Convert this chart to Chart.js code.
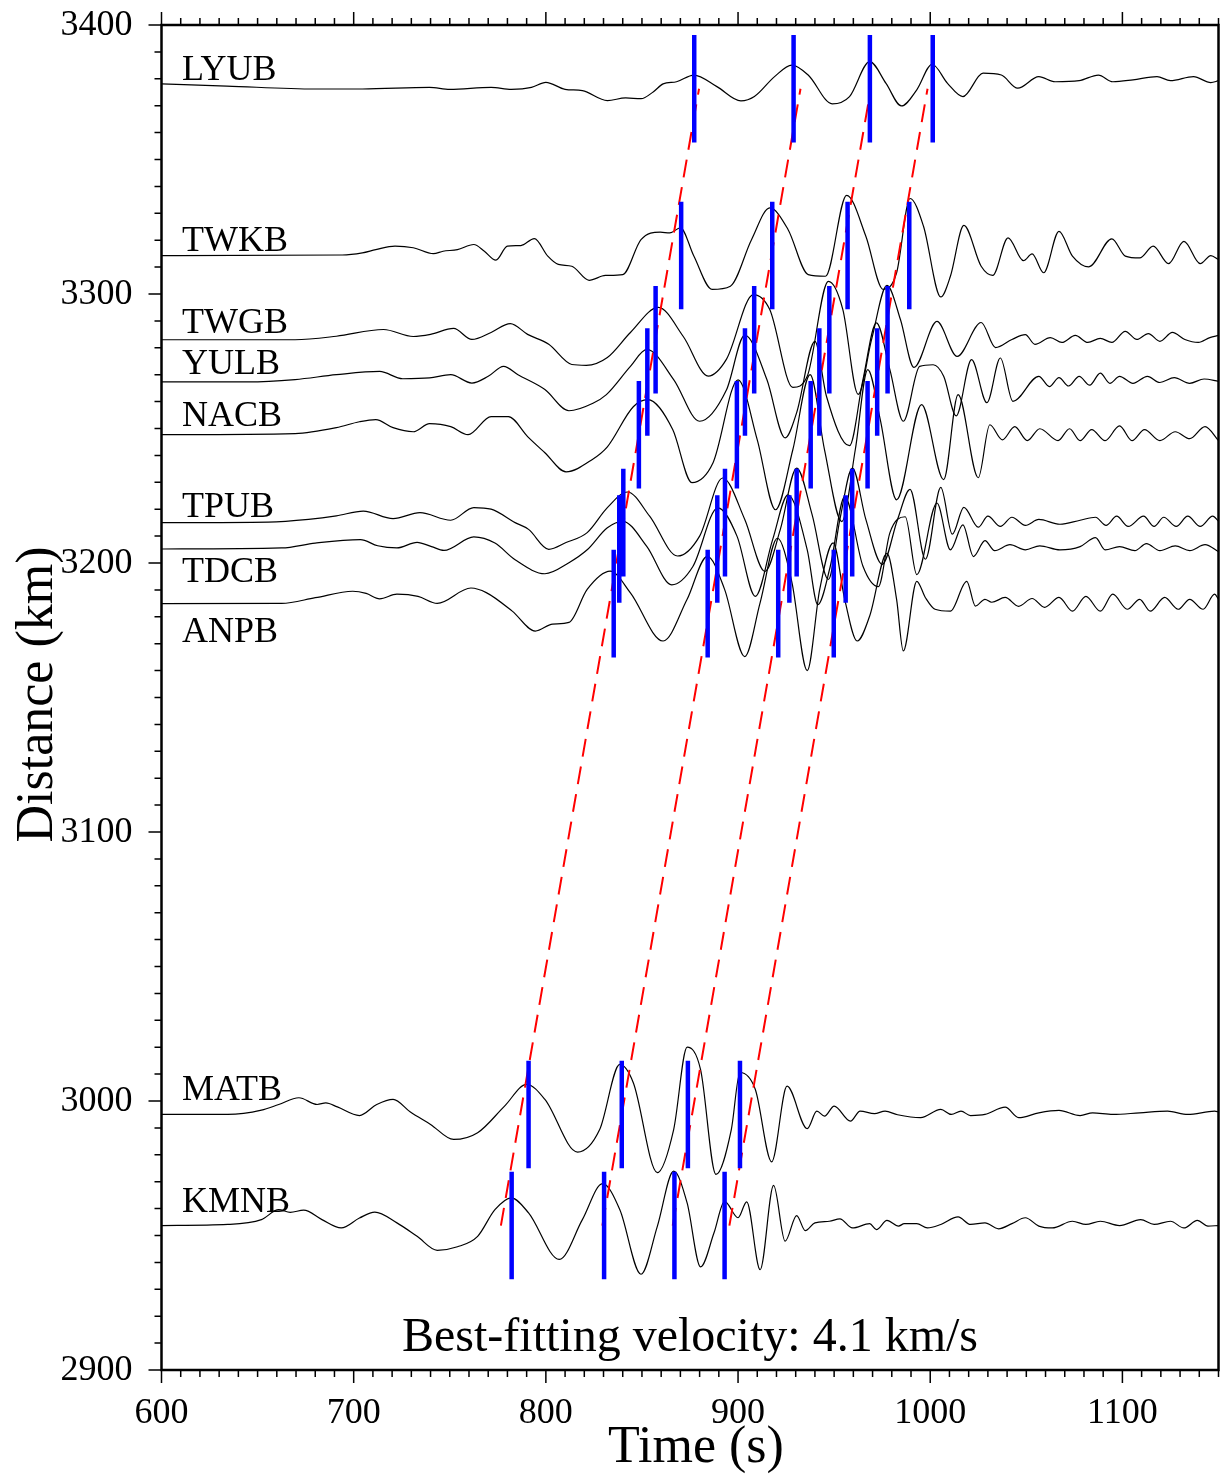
<!DOCTYPE html>
<html>
<head>
<meta charset="utf-8">
<script src="https://cdn.jsdelivr.net/npm/chart.js@4.4.1/dist/chart.umd.min.js"></script>
<style>
html,body{margin:0;padding:0;background:#fff;}
#c{display:block;}
</style>
</head>
<body>
<canvas id="c" width="1221" height="1478"></canvas>
<script>
// ---------------- DATA ----------------
const stations = ['LYUB','TWKB','TWGB','YULB','NACB','TPUB','TDCB','ANPB','MATB','KMNB'];
const baseDistance = [3376.3, 3314.3, 3283.0, 3267.3, 3247.7, 3215.0, 3205.2, 3184.9, 2995.0, 2953.7]; // km

// waveform samples: time (s) and amplitude offset from station distance (km)
const LYUB_t = [600,634,680,704.5,739.5,750,771.5,782,792.5,800,810,819,832,841.5,849.5,856,861,868,877,889,901.5,908.5,919,928,936.5,949,958,968.5,977,985,993,1001,1009,1017,1027.5,1037,1045.5,1056.5,1065,1077.5,1087.5,1095,1105.5,1118,1125,1137,1146,1150];
const LYUB_a = [1.8,1.0,-0.1,-0.1,0.5,-0.2,0.5,-0.2,0.5,2.4,-0.2,-0.7,-4.4,-3.4,-3.7,-1.1,1.8,2.6,5.1,0.8,-4.5,-2.9,4.5,8.8,5.1,-5.6,-2.9,10.1,2.0,-6.4,-0.4,9.1,2.0,-2.9,5.8,5.1,0.2,4.5,2.6,3.0,5.1,2.6,3.3,4.5,3.0,4.5,2.3,3.0];

const TWKB_t = [600,694,704.5,711.5,721.5,731,741.5,746.5,754,762.5,768,774,780,787,794,801,806.5,813.5,822.5,831,840,849.5,859.5,864.5,870,877,886.5,896,907,916.5,926,936.5,945.5,956.5,966.5,975.5,982.5,989.5,996.5,1005.5,1010.5,1017.5,1026.5,1032.5,1040.5,1048.5,1053,1059,1067,1074,1082.5,1094.5,1101.5,1109,1116,1124,1132,1140.5,1146,1150];
const TWKB_a = [0,0.2,1.0,2.2,3.5,2.9,0.7,1.6,2.2,4.1,1.6,-1.7,3.5,3.7,6.3,-0.2,-3.3,-4.0,-9.2,-7.4,-7.1,5.9,8.7,8.4,10.3,-0.2,-12.6,-11.4,5.9,17.7,9.7,-7.1,-7.7,22.4,7.2,-12.6,-6.4,21.2,10.9,-15.4,-7.7,11.2,-4.0,-7.4,6.6,-1.9,0.6,-6.4,9.0,-0.2,-4.2,6.2,-0.2,-0.9,3.5,-3.0,5.3,-3.0,0,-1.5];

const TWGB_t = [600,669.5,691,715.5,731,740,752,761.5,771.5,781.5,790.5,801.5,813.5,821,832,844,858.5,871.5,884.5,894,908,916.5,928.5,936,947,954.5,962.5,969.5,977.5,984.5,991.5,1003.5,1014,1026.5,1034,1042.5,1049.5,1054.5,1062.5,1068.5,1075.5,1082,1088.5,1094.5,1101.5,1107.5,1113.5,1119.5,1126,1132.5,1139.5,1145.5,1150];
const TWGB_a = [0,0,1.3,3.8,1.2,2.0,4.2,0.1,2.7,6.0,2.0,-1.7,-9.2,-9.5,-6.6,2.7,12.0,1.2,-13.5,-7.2,16.8,11.2,-17.7,-13.6,21.7,11.3,-20.3,0.1,20.2,7.5,-10.3,6.8,-6.2,6.4,-2.9,0.1,1.9,-1.7,0.8,-1.0,1.6,-1.0,0.5,-1.0,3.1,0.1,2.3,-0.6,2.7,0.1,-1.0,0.8,1.6];

const YULB_t = [600,645,669.5,691,713.5,725.5,739.5,750.5,761.5,770,778,785.5,799.5,812,824.5,831.5,844,852.5,866.5,880,894,903.5,915,924.5,930.5,940,946,958,965,972,979,986,994.5,1001.5,1007,1013.5,1021.5,1029.5,1036.5,1043,1056.5,1062,1067,1072,1077.5,1083,1088.5,1093.5,1098.5,1105.5,1113,1119.5,1127,1135,1142.5,1150];
const YULB_a = [0,0,0.9,2.7,3.9,1.2,1.5,2.7,-0.4,2.1,5.8,2.7,-2.8,-10.7,-7.9,-4.7,5.8,12.1,0.9,-14.6,-2.9,17.4,0.9,-20.8,-11.4,15.1,-5.3,-23.7,0.9,22.0,4.6,-14.6,5.8,6.4,2.1,-12.6,8.3,-7.7,8.9,-7.2,2.1,-1.7,1.6,-1.5,2.1,-1.2,3.3,-0.5,2.1,-0.5,2.1,-0.2,1.6,-0.5,1.1,0.2];

const NACB_t = [600,669.5,691,703,711.5,720.5,731,739.5,750.5,759.5,771.5,780.5,790.5,799.5,810.5,824,832,845.5,853,866,876,887,900,910,919.5,928.5,937.5,945,954,961,967.5,974,982.5,995.5,1007,1014.5,1025,1031,1037.5,1044,1050.5,1057,1066.5,1072.5,1078,1084,1091,1098.5,1105,1111.5,1119.5,1127.5,1135,1143,1150];
const NACB_a = [0,0.4,2.6,4.8,5.6,2.6,1.1,4.1,3.0,0,6.7,6.7,-0.7,-6.7,-13.8,-9.3,-4.5,10.4,13.0,1.9,-17.8,-10.4,20.4,-1.9,-27.9,-5.6,22.3,-5.6,-32.3,-5.6,24.2,5.6,-24.2,11.2,-16.7,14.9,-16.0,3.7,-1.9,3.0,-2.2,2.2,-2.2,2.2,-2.2,1.9,-2.2,3.3,-2.2,1.9,-2.2,1.1,-1.5,3.0,-2.2];

const TPUB_t = [600,655.5,676.5,691,705,720.5,734.5,750.5,762.5,771.5,784,791,801.5,810.5,821.5,832,842.5,854,868.5,880,892,903.5,914,922,930.5,938.5,947,953,959.5,966.5,975,983,989.5,997.5,1005.5,1011.5,1017.5,1025,1030,1036.5,1042.5,1049.5,1056.5,1067.5,1078,1086,1091.5,1097,1103,1111,1116.5,1121.5,1128,1134,1140.5,1147,1150];
const TPUB_a = [0,0.2,1.2,2.5,4.3,1.5,3.7,0.9,5.6,5.0,0,-2.5,-9.9,-7.4,-3.7,5.6,11.4,2.4,-12.4,-5.0,16.6,1.2,-18.1,-2.5,20.3,3.1,-21.1,1.2,20.3,1.2,-15.5,1.2,12.4,-13.6,13.1,-4.3,5.7,-1.7,2.4,-1.4,2.0,-1.0,1.2,-0.6,0.9,2.0,-1.0,2.4,-1.4,2.4,-1.4,2.0,-1.4,2.4,-1.4,2.4,0.5];

const TDCB_t = [600,662.5,680,703.5,712.5,722.5,733,740.5,747,762.5,773.5,784,799.5,812,821.5,832,840,852.5,865.5,876.5,889.5,899.5,909,918,926,936,941.5,948,955.5,965,973,979,987,993,1003.5,1010.5,1017,1022.5,1028.5,1033.5,1041.5,1049.5,1057,1067.5,1078,1086,1091,1098.5,1106.5,1112.5,1119.5,1127.5,1135,1143,1150];
const TDCB_a = [0,0.4,2.2,3.5,1.2,0.4,2.5,0.9,-0.5,4.5,2.2,-4.0,-9.2,-5.1,-0.3,7.9,10.3,1.0,-13.3,-6.5,15.3,4.7,-17.6,3.5,20.1,-0.3,-20.7,-6.4,19.5,-6.4,-14.0,6.0,12.0,-9.5,17.1,-0.3,9.0,-2.8,3.1,-0.6,1.6,-0.3,1.2,-0.3,0.9,4.2,-0.3,0.9,-0.6,2.0,-0.6,1.2,-0.6,1.6,-1.0];

const ANPB_t = [600,662.5,680,699.5,706.5,713.5,722.5,733.5,743.5,761,769,782.5,794.5,803.5,812,821.5,833.5,844,861,873.5,884,893,903.5,911.5,920.5,928,936,942.5,949.5,955.5,962,968.5,977.5,982.5,986,993,997.5,1002.5,1010.5,1019,1023.5,1028.5,1032,1039,1046,1053,1059.5,1067,1074,1081,1088.5,1095,1102.5,1109,1114.5,1122,1129,1135,1142,1148,1150];
const ANPB_a = [0,0.1,2.2,4.6,3.8,1.8,3.5,2.7,0.1,5.8,4.1,-2.8,-10.2,-7.6,-7.0,5.3,12.1,4.0,-13.9,1.6,17.6,5.3,-19.7,0.4,24.3,8.0,-24.9,5.3,22.6,1.6,-13.9,-4.6,18.7,1.6,-17.6,8.3,2.2,-2.1,-2.8,8.3,-0.9,1.6,0.5,2.3,-1.0,1.9,-1.4,2.3,-2.8,2.7,-2.8,3.5,-2.1,1.6,-2.8,2.3,-2.1,1.6,-2.1,3.5,1.6];

const MATB_t = [600,634.5,652,661,671.5,681,685.5,691.5,703,712,720.5,729.5,740,752,764.5,778.5,790,799.5,816.5,828,838.5,845.5,858,866.5,873.5,880.5,888.5,896.5,901,909,917.5,925.5,936,941,945,950,958.5,963.5,971,976.5,983,995,1005.5,1011,1016,1021,1028.5,1039,1046,1056.5,1067,1078,1084.5,1095,1109,1123.5,1134,1148,1150];
const MATB_a = [0,0,1.6,3.7,6.2,3.7,4.3,2.8,-0.4,3.7,5.6,0.9,-3.7,-9.3,-6.8,3.1,11.2,5.6,-14.0,-5.6,18.6,11.8,-21.6,-5.6,25.0,16.7,-22.3,-5.6,15.6,9.3,-17.6,10.5,-5.3,1.2,-0.6,3.1,-2.5,1.2,0.3,1.2,-0.1,-1.2,1.9,0,1.2,-0.4,0,2.7,-1.2,0.6,1.5,-0.4,0.6,0,0.6,1.2,0,1.2,1.0];

const KMNB_t = [600,634.5,652,661,667,674,683.5,693.5,703,711,722.5,733,743.5,754,764.5,773.5,782,791,807,819,829.5,838.5,849.5,858,866.5,873.5,880.5,887.5,893,900,904.5,911.5,918.5,924.5,930.5,935,940,947.5,953,959.5,968.5,972,977.5,983.5,986.5,993,998.5,1005.5,1014.5,1021,1028.5,1035.5,1042.5,1049.5,1056.5,1063.5,1074,1081,1088.5,1098.5,1109.5,1116.5,1125,1132,1139,1144.5,1150];
const KMNB_a = [0,0.4,2.2,5.9,4.9,5.7,2.2,-0.9,2.8,5.0,1.0,-4.0,-9.2,-7.9,-4.0,5.9,10.3,4.7,-12.6,2.2,15.6,5.9,-18.1,-0.3,20.2,8.4,-15.4,-2.7,9.0,2.9,8.8,-16.4,14.9,-5.8,3.7,-1.9,1.0,1.6,2.5,-0.9,0.7,-1.5,1.9,-0.2,0.7,0.7,-0.9,0.4,3.2,0.4,1.0,-1.2,0.7,2.9,-0.2,-0.9,1.6,0.4,1.6,0,2.2,0.4,1.6,-0.9,1.9,-0.2,0];

const traceTimes = [LYUB_t, TWKB_t, TWGB_t, YULB_t, NACB_t, TPUB_t, TDCB_t, ANPB_t, MATB_t, KMNB_t];
const traceAmps  = [LYUB_a, TWKB_a, TWGB_a, YULB_a, NACB_a, TPUB_a, TDCB_a, ANPB_a, MATB_a, KMNB_a];

// picked phase times (s), one row per station
const pickTimes = [
  [877.2, 928.9, 968.6, 1001.3],
  [870.4, 917.8, 957.0, 989.1],
  [857.1, 908.4, 947.5, 977.8],
  [852.8, 903.6, 942.3, 972.4],
  [848.4, 899.4, 937.8, 967.4],
  [840.3, 893.2, 930.5, 959.4],
  [838.2, 889.2, 926.7, 956.0],
  [835.3, 884.2, 920.9, 949.8],
  [791.0, 839.5, 873.9, 901.0],
  [782.2, 830.3, 866.9, 893.0]
];
const pickHalfLength = 20; // km

// best-fit moveout lines (4.1 km/s)
const fitDistance  = [2953.7, 3376.3];
const fitStartTime = [776.6, 829.4, 866.0, 895.5];
const fitEndTime   = [879.7, 932.5, 969.1, 998.6];

const xTickLabels = [600, 700, 800, 900, 1000, 1100];
const yTickLabels = [2900, 3000, 3100, 3200, 3300, 3400];
const xTitle = 'Time (s)';
const yTitle = 'Distance (km)';
const noteText = 'Best-fitting velocity: 4.1 km/s';

// label anchors (data coordinates of text baseline)
const labelTime = 610.7;
const labelDist = [3379.6, 3316.0, 3285.5, 3270.1, 3251.0, 3217.2, 3193.0, 3170.7, 3000.4, 2958.7];
const noteDist = 2907.0;

// ---------------- BUILD ----------------
const SERIF = '"Liberation Serif", "Times New Roman", Times, serif';
const datasets = [];

// picks (drawn on top)
const pickPts = [];
stations.forEach((s, i) => {
  pickTimes[i].forEach(t => {
    pickPts.push({x: t, y: baseDistance[i] - pickHalfLength});
    pickPts.push({x: t, y: baseDistance[i] + pickHalfLength});
    pickPts.push({x: t, y: null});
  });
});
datasets.push({
  label: 'picks', data: pickPts, borderColor: '#0000ff', borderWidth: 4.5,
  pointRadius: 0, spanGaps: false, borderCapStyle: 'butt', tension: 0, order: 0
});

// fit lines
fitStartTime.forEach((t0, k) => {
  datasets.push({
    label: 'fit' + k,
    data: [{x: t0, y: fitDistance[0]}, {x: fitEndTime[k], y: fitDistance[1]}],
    borderColor: '#ff0000', borderWidth: 2, borderDash: [18, 10],
    pointRadius: 0, tension: 0, order: 1
  });
});

// traces
stations.forEach((s, i) => {
  datasets.push({
    label: s,
    data: traceTimes[i].map((t, j) => ({x: t, y: baseDistance[i] + traceAmps[i][j]})),
    borderColor: '#000', borderWidth: 1.2, pointRadius: 0,
    cubicInterpolationMode: 'monotone', order: 2
  });
});

const decor = {
  id: 'decor',
  afterDatasetsDraw(chart) {
    const ctx = chart.ctx, a = chart.chartArea, xs = chart.scales.x, ys = chart.scales.y;
    ctx.save();
    // station labels
    ctx.fillStyle = '#000';
    ctx.font = '36px ' + SERIF;
    ctx.textAlign = 'left';
    ctx.textBaseline = 'alphabetic';
    stations.forEach((s, i) => {
      ctx.fillText(s, xs.getPixelForValue(labelTime), ys.getPixelForValue(labelDist[i]));
    });
    // note
    ctx.font = '48px ' + SERIF;
    ctx.textAlign = 'center';
    ctx.fillText(noteText, (a.left + a.right) / 2, ys.getPixelForValue(noteDist));

    // frame
    ctx.strokeStyle = '#000';
    ctx.lineWidth = 2.5;
    ctx.strokeRect(a.left, a.top, a.right - a.left, a.bottom - a.top);

    // ticks
    ctx.lineWidth = 1.5;
    ctx.beginPath();
    for (let v = 600; v <= 1150; v += 10) {
      const px = xs.getPixelForValue(v);
      const L = (v % 100 === 0) ? 13 : 7;
      ctx.moveTo(px, a.bottom); ctx.lineTo(px, a.bottom + L);
      ctx.moveTo(px, a.top); ctx.lineTo(px, a.top - L);
    }
    for (let v = 2900; v <= 3400; v += 10) {
      const py = ys.getPixelForValue(v);
      const L = (v % 100 === 0) ? 13 : 7;
      ctx.moveTo(a.left, py); ctx.lineTo(a.left - L, py);
    }
    ctx.stroke();

    // tick labels
    ctx.font = '36px ' + SERIF;
    ctx.textAlign = 'center';
    ctx.textBaseline = 'alphabetic';
    xTickLabels.forEach(v => ctx.fillText(String(v), xs.getPixelForValue(v), a.bottom + 53));
    ctx.textAlign = 'right';
    ctx.textBaseline = 'middle';
    yTickLabels.forEach(v => ctx.fillText(String(v), a.left - 29, ys.getPixelForValue(v) + 1));

    // axis titles
    ctx.font = '52px ' + SERIF;
    ctx.textAlign = 'center';
    ctx.textBaseline = 'alphabetic';
    ctx.fillText(xTitle, (a.left + a.right) / 2 + 6, a.bottom + 92);
    ctx.translate(52, (a.top + a.bottom) / 2 - 3);
    ctx.rotate(-Math.PI / 2);
    ctx.fillText(yTitle, 0, 0);
    ctx.restore();
  }
};

new Chart(document.getElementById('c').getContext('2d'), {
  type: 'line',
  data: {datasets},
  options: {
    responsive: false,
    animation: false,
    devicePixelRatio: 1,
    parsing: true,
    layout: {padding: {left: 161.5, top: 25, right: 2.5, bottom: 108}},
    scales: {
      x: {type: 'linear', min: 600, max: 1150, display: false},
      y: {type: 'linear', min: 2900, max: 3400, display: false}
    },
    plugins: {legend: {display: false}, tooltip: {enabled: false}},
    elements: {point: {radius: 0}}
  },
  plugins: [decor]
});
</script>
</body>
</html>
